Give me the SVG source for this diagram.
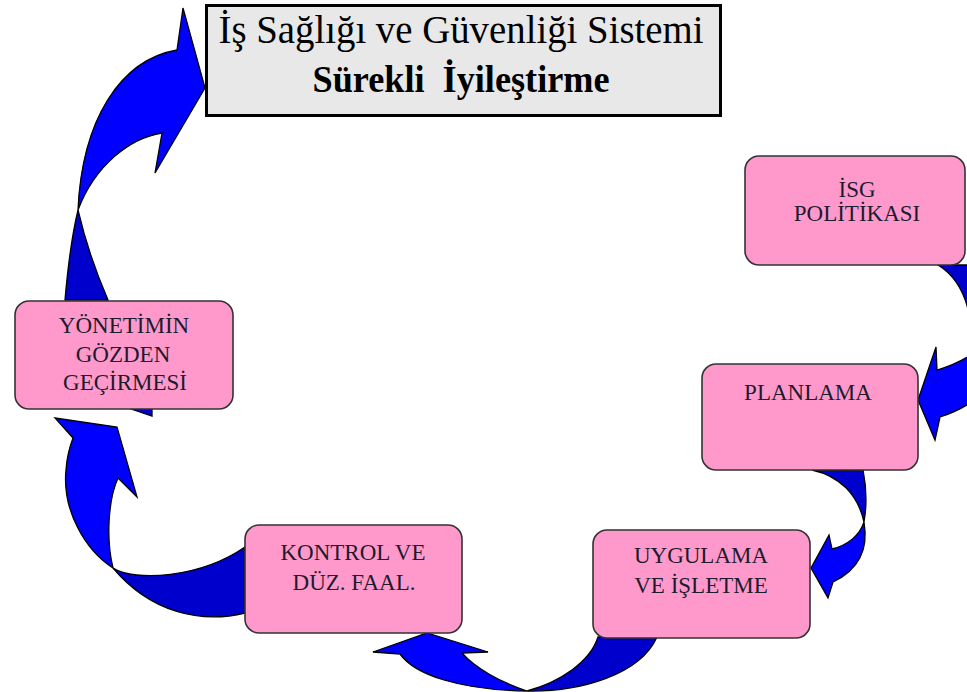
<svg xmlns="http://www.w3.org/2000/svg" width="967" height="692" viewBox="0 0 967 692">
<style>
.lt{fill:#0000ff;stroke:#000;stroke-width:1.3;stroke-linejoin:miter}
.dk{fill:#0000cc;stroke:#000;stroke-width:1.3}
.box{fill:#ff99cc;stroke:#333;stroke-width:1.6}
.t{font-family:"Liberation Serif","Times New Roman",serif;font-size:23px;fill:#1c1c2c;text-anchor:middle}
.h{font-family:"Liberation Serif","Times New Roman",serif;fill:#000;text-anchor:middle}
</style>
<rect width="967" height="692" fill="#fff"/>
<g id="connectors">
  <g id="arrow-review-title">
    <path class="dk" d="M128,408 L152,408 L152,416 Z"/>
    <path class="dk" d="M65,300 C68,265 72,235 78,210 C85,240 95,270 108,300 Z"/>
    <path class="lt" d="M78,210 C82,120 120,60 177,50 L183,8 L205,88 L155,173 L162,133 C130,138 95,165 78,210 Z"/>
  </g>
  <g id="arrow-policy-plan">
    <path class="dk" d="M938,265 C956,276 966,296 970,318 L1005,318 L1005,265 Z"/>
    <path class="lt" d="M1005,322 C990,345 965,362 937,370 L936,347 L918,400 L935,440 L940,417 C962,410 982,398 1005,372 Z"/>
  </g>
  <g id="arrow-plan-impl">
    <path class="dk" d="M812,470 L863,470 C866,485 867,505 864,522 C858,495 840,476 812,470 Z"/>
    <path class="lt" d="M864,522 C868,545 862,568 833,582 L828,598 L811,568 L829,535 L832,549 C848,545 860,535 864,522 Z"/>
  </g>
  <g id="arrow-impl-control">
    <path class="dk" d="M527,691 C580,692 640,675 657,637 L598,637 C590,662 560,682 527,691 Z"/>
    <path class="lt" d="M527,691 C500,682 475,668 462,653 L488,652 L427,633 L373,652 L400,654 C415,675 460,690 527,691 Z"/>
  </g>
  <g id="arrow-control-review">
    <path class="dk" d="M113,568 C135,582 200,578 245,547 L245,613 C200,624 150,612 113,568 Z"/>
    <path class="lt" d="M113,568 C85,550 62,510 66,470 C67,455 70,446 73,438 L55,418 L117,427 L137,497 L118,478 C108,500 106,540 113,568 Z"/>
  </g>
</g>
<g id="title">
  <rect x="206.5" y="5.5" width="514" height="110" fill="#e8e8e8" stroke="#000" stroke-width="3"/>
  <text class="h" x="461" y="43" font-size="40" textLength="485" lengthAdjust="spacingAndGlyphs">İş Sağlığı ve Güvenliği Sistemi</text>
  <text class="h" x="461" y="92" font-size="38" font-weight="bold" textLength="297" lengthAdjust="spacingAndGlyphs" xml:space="preserve">Sürekli  İyileştirme</text>
</g>
<g id="node-policy">
  <rect class="box" x="745" y="156" width="220" height="109" rx="14"/>
  <text class="t" x="857" y="197">İSG</text>
  <text class="t" x="857" y="221">POLİTİKASI</text>
</g>
<g id="node-plan">
  <rect class="box" x="702" y="364" width="216" height="106" rx="14"/>
  <text class="t" x="808" y="400">PLANLAMA</text>
</g>
<g id="node-impl">
  <rect class="box" x="593" y="530" width="217" height="108" rx="14"/>
  <text class="t" x="701" y="563">UYGULAMA</text>
  <text class="t" x="701" y="593">VE İŞLETME</text>
</g>
<g id="node-control">
  <rect class="box" x="245" y="525" width="217" height="108" rx="14"/>
  <text class="t" x="353" y="560">KONTROL VE</text>
  <text class="t" x="354" y="590">DÜZ. FAAL.</text>
</g>
<g id="node-review">
  <rect class="box" x="15" y="301" width="218" height="108" rx="14"/>
  <text class="t" x="124" y="333">YÖNETİMİN</text>
  <text class="t" x="123" y="362">GÖZDEN</text>
  <text class="t" x="125" y="390">GEÇİRMESİ</text>
</g>
</svg>
